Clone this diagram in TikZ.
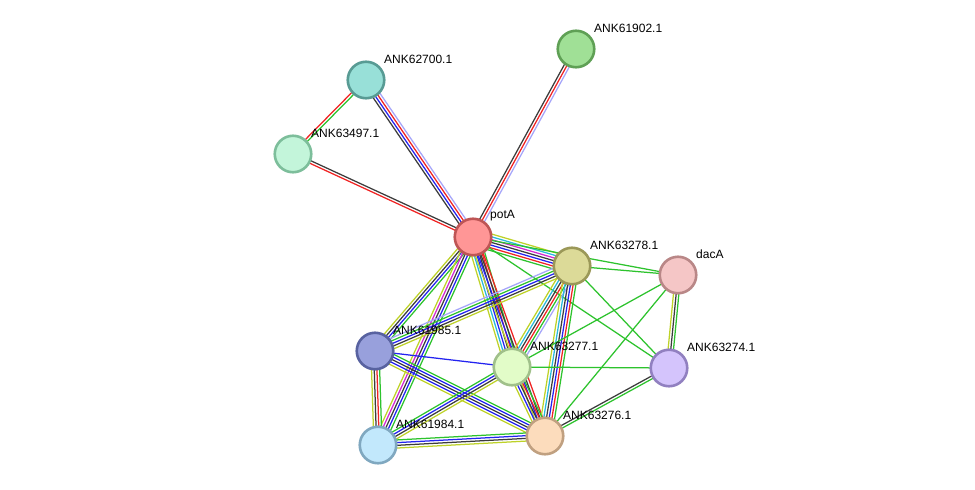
\documentclass[tikz,border=0pt]{standalone}
\usepackage{fontspec}
\setmainfont{Liberation Sans}
\usetikzlibrary{calc}
\pgfdeclarelayer{bg}
\pgfsetlayers{bg,main}
\definecolor{eG}{RGB}{45,195,45}
\definecolor{eR}{RGB}{240,35,35}
\definecolor{eB}{RGB}{35,35,240}
\definecolor{eK}{RGB}{60,60,60}
\definecolor{eM}{RGB}{210,40,210}
\definecolor{eC}{RGB}{40,185,220}
\definecolor{eY}{RGB}{190,210,40}
\definecolor{eL}{RGB}{165,165,250}
\definecolor{fpotA}{RGB}{255,150,150}\definecolor{dpotA}{RGB}{190,85,85}
\definecolor{fa}{RGB}{152,224,216}\definecolor{da}{RGB}{88,155,148}
\definecolor{fb}{RGB}{160,224,150}\definecolor{db}{RGB}{95,160,85}
\definecolor{fc}{RGB}{195,245,218}\definecolor{dc}{RGB}{125,190,155}
\definecolor{fd}{RGB}{220,218,152}\definecolor{dd}{RGB}{155,152,88}
\definecolor{fe}{RGB}{245,198,198}\definecolor{de}{RGB}{185,135,135}
\definecolor{ff}{RGB}{152,160,220}\definecolor{df}{RGB}{88,98,160}
\definecolor{fg}{RGB}{226,252,200}\definecolor{dg}{RGB}{160,192,138}
\definecolor{fh}{RGB}{212,196,252}\definecolor{dh}{RGB}{145,128,192}
\definecolor{fi}{RGB}{194,232,252}\definecolor{di}{RGB}{128,168,192}
\definecolor{fj}{RGB}{252,220,188}\definecolor{dj}{RGB}{192,160,128}
\newcommand{\bund}[3]{%
  \gdef\bn{0}%
  \foreach \c in {#3}{\pgfmathtruncatemacro\tmp{\bn+1}\global\let\bn\tmp}%
  \foreach \c [count=\i] in {#3}{%
    \pgfmathsetmacro\off{(\i-(\bn+1)/2)*2.7}%
    \draw[edge, draw=\c] ($(#1.center)!\off pt!90:(#2.center)$) -- ($(#2.center)!\off pt!-90:(#1.center)$);
  }%
}
\tikzset{
  prot/.style={circle, minimum size=36.5pt, inner sep=0pt, line width=2.6pt},
  edge/.style={line width=1.25pt},
  lab/.style={anchor=west, inner sep=0pt, font=\fontsize{12}{14}\selectfont, text=black}
}
\begin{document}
\begin{tikzpicture}[x=1pt,y=-1pt]
\useasboundingbox (0,0) rectangle (975,490);
\node[prot, fill=fpotA, draw=dpotA] (potA) at (473,237) {};
\node[prot, fill=fa, draw=da] (n62700) at (366,80) {};
\node[prot, fill=fb, draw=db] (n61902) at (576,49) {};
\node[prot, fill=fc, draw=dc] (n63497) at (293,154) {};
\node[prot, fill=fd, draw=dd] (n63278) at (572,266) {};
\node[prot, fill=fe, draw=de] (dacA) at (678,275) {};
\node[prot, fill=ff, draw=df] (n61985) at (375,351) {};
\node[prot, fill=fg, draw=dg] (n63277) at (512,367) {};
\node[prot, fill=fh, draw=dh] (n63274) at (669,368) {};
\node[prot, fill=fi, draw=di] (n61984) at (378,445) {};
\node[prot, fill=fj, draw=dj] (n63276) at (545,436) {};
\begin{pgfonlayer}{bg}
\fill[white] (0,0) rectangle (975,490);
\bund{potA}{n62700}{eL,eR,eB,eK}
\bund{potA}{n61902}{eL,eR,eK}
\bund{potA}{n63497}{eK,eR}
\bund{n62700}{n63497}{eR,eG}
\bund{potA}{n63278}{eG,eR,eB,eK,eM,eC,eY}
\bund{potA}{dacA}{eG}
\bund{potA}{n63274}{eG}
\bund{potA}{n61985}{eY,eK,eB,eG}
\bund{potA}{n61984}{eY,eM,eK,eB,eG}
\bund{potA}{n63277}{eY,eC,eB,eK,eR,eG}
\bund{potA}{n63276}{eY,eB,eK,eR}
\bund{n63278}{n61985}{eL,eG,eB,eK,eY}
\bund{n63278}{n63277}{eY,eC,eK,eR,eG,eL}
\bund{n63278}{n63276}{eY,eC,eK,eB,eR,eG}
\bund{n63278}{n63274}{eG}
\bund{n63278}{dacA}{eG}
\bund{dacA}{n63274}{eY,eK,eG}
\bund{dacA}{n63277}{eG}
\bund{dacA}{n63276}{eG}
\bund{n63274}{n63276}{eK,eG}
\bund{n63274}{n63277}{eG}
\bund{n61985}{n63277}{eB}
\bund{n61985}{n61984}{eY,eK,eR,eG}
\bund{n61985}{n63276}{eY,eB,eK,eB,eG}
\bund{n61984}{n63277}{eY,eK,eB,eG}
\bund{n61984}{n63276}{eY,eK,eB,eG}
\bund{n63277}{n63276}{eY,eB,eK,eR,eG}
\end{pgfonlayer}
\node[lab] (lpotA) at ($(potA)+(17,-21)$) {potA};
\node[lab] (l62700) at ($(n62700)+(18,-21)$) {ANK62700.1};
\node[lab] (l61902) at ($(n61902)+(18,-21)$) {ANK61902.1};
\node[lab] (l63497) at ($(n63497)+(18,-21)$) {ANK63497.1};
\node[lab] (l63278) at ($(n63278)+(18,-21)$) {ANK63278.1};
\node[lab] (ldacA) at ($(dacA)+(18,-21)$) {dacA};
\node[lab] (l61985) at ($(n61985)+(18,-21)$) {ANK61985.1};
\node[lab] (l63277) at ($(n63277)+(18,-21)$) {ANK63277.1};
\node[lab] (l63274) at ($(n63274)+(18,-21)$) {ANK63274.1};
\node[lab] (l61984) at ($(n61984)+(18,-21)$) {ANK61984.1};
\node[lab] (l63276) at ($(n63276)+(18,-21)$) {ANK63276.1};
\end{tikzpicture}
\end{document}
